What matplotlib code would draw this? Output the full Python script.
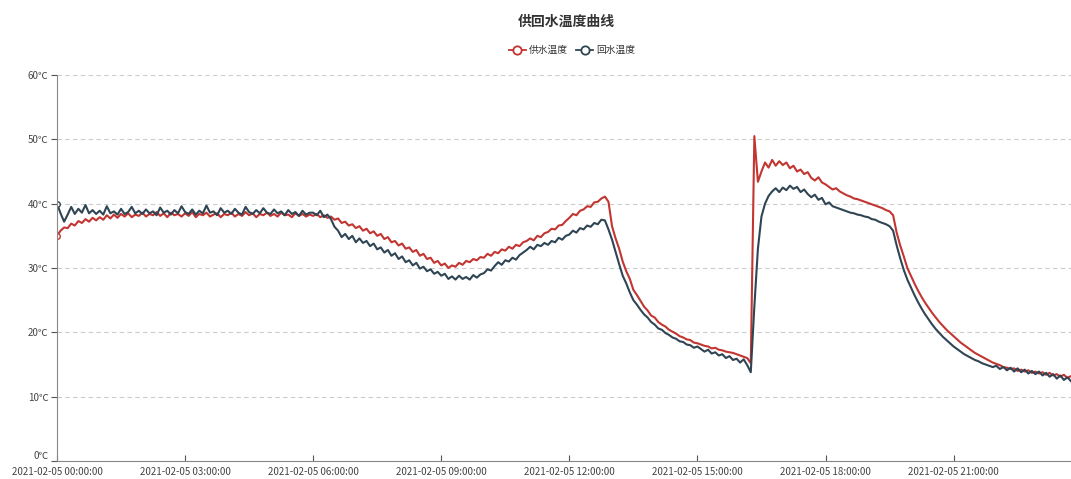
import matplotlib
matplotlib.use("Agg")
import matplotlib.pyplot as plt
import matplotlib.dates as mdates
import pandas as pd

plt.rcParams['font.family'] = ['Noto Sans CJK SC', 'DejaVu Sans']

# 5-minute samples, 2021-02-05 00:00 .. 23:45
times = pd.date_range('2021-02-05 00:00:00', periods=286, freq='5min')

# 供水温度 (supply), one row per hour
supply = [
    35.0, 35.8, 36.3, 36.2, 36.9, 36.6, 37.3, 37.0, 37.6, 37.2, 37.8, 37.4,
    37.9, 37.5, 38.2, 37.7, 38.3, 37.8, 38.4, 38.0, 38.5, 37.9, 38.3, 38.1,
    38.6, 38.0, 38.4, 38.2, 38.7, 38.1, 38.5, 37.9, 38.6, 38.2, 38.4, 38.0,
    38.5, 38.1, 38.7, 37.9, 38.4, 38.2, 38.6, 38.0, 38.3, 38.5, 37.9, 38.4,
    38.2, 38.6, 38.0, 38.4, 38.1, 38.7, 38.2, 38.5, 37.9, 38.4, 38.2, 38.6,
    38.1, 38.4, 38.0, 38.6, 38.2, 38.3, 37.9, 38.5, 38.1, 38.4, 38.0, 38.3,
    38.1, 38.4, 37.9, 38.2, 37.8, 38.0, 37.5, 37.7, 37.0, 37.2, 36.6, 36.8,
    36.2, 36.5, 35.8, 36.1, 35.4, 35.7, 35.0, 35.3, 34.5, 34.8, 34.0, 34.2,
    33.5, 33.8, 33.0, 33.2, 32.5, 32.8, 31.9, 32.2, 31.4, 31.6, 30.8, 31.1,
    30.4, 30.7, 30.0, 30.4, 30.2, 30.8, 30.5, 31.1, 30.9, 31.4, 31.2, 31.7,
    31.6, 32.2, 31.9, 32.5, 32.3, 32.9, 32.7, 33.3, 33.0, 33.6, 33.4, 34.0,
    34.2, 34.6, 34.3, 35.0, 34.8, 35.4, 35.6, 36.1, 36.0, 36.6, 36.7, 37.3,
    37.8, 38.4, 38.2, 38.9, 39.1, 39.6, 39.5, 40.2, 40.3, 40.8, 41.1, 40.3,
    36.5, 34.6, 33.0, 31.0, 29.5, 28.3, 26.6, 25.8, 24.9, 24.0, 23.4, 22.6,
    22.3, 21.6, 21.2, 20.9, 20.4, 20.1, 19.8, 19.4, 19.2, 18.9, 18.8, 18.4,
    18.3, 18.1, 17.9, 17.8, 17.5, 17.6, 17.3, 17.2, 17.0, 16.9, 16.8, 16.6,
    16.4, 16.2, 16.0, 15.2, 50.5, 43.4, 45.0, 46.4, 45.6, 46.8, 45.9, 46.6,
    46.0, 46.4, 45.5, 45.9, 45.0, 45.3, 44.6, 44.9, 44.0, 43.6, 44.1, 43.3,
    43.0, 42.6, 42.2, 42.4, 41.9, 41.6, 41.3, 41.1, 40.8, 40.7, 40.5, 40.3,
    40.1, 39.9, 39.7, 39.5, 39.3, 39.0, 38.8, 38.2, 35.5, 33.5, 31.8, 30.0,
    28.8, 27.6, 26.5, 25.5, 24.6, 23.8, 23.0, 22.3, 21.6, 21.0, 20.4, 19.9,
    19.4, 18.9, 18.4, 18.0, 17.6, 17.2, 16.8, 16.5, 16.2, 15.9, 15.6, 15.3,
    15.1, 14.9, 14.6, 14.5, 14.3, 14.4, 14.0, 14.2, 13.9, 14.1, 13.7, 13.9,
    13.6, 13.8, 13.4, 13.7, 13.3, 13.5, 13.1, 13.4, 12.9, 13.2,
]

# 回水温度 (return)
ret = [
    40.0, 38.5, 37.2, 38.3, 39.5, 38.4, 39.2, 38.6, 39.8, 38.5, 39.0, 38.4,
    38.9, 38.3, 39.6, 38.5, 38.8, 38.3, 39.2, 38.4, 38.7, 39.5, 38.5, 38.9,
    38.4, 39.1, 38.5, 38.8, 38.2, 39.4, 38.6, 38.9, 38.3, 39.0, 38.5, 39.6,
    38.7, 38.4, 39.1, 38.3, 38.9, 38.5, 39.7, 38.6, 38.8, 38.2, 39.3, 38.6,
    38.9, 38.4, 39.2, 38.6, 38.3, 39.5, 38.7, 38.4, 39.0, 38.5, 39.3, 38.6,
    38.4, 39.1, 38.5, 38.8, 38.2, 39.0, 38.4, 38.7, 38.1, 38.9, 38.3, 38.6,
    38.6, 38.2, 38.9, 37.9, 38.3, 37.6, 36.4, 35.8, 34.8, 35.3, 34.5, 35.0,
    34.0, 34.6, 33.9, 34.2, 33.4, 33.8, 32.9, 33.2, 32.4, 32.8, 31.9, 32.3,
    31.4, 31.8, 30.9, 31.2, 30.4, 30.8, 29.9, 30.2, 29.5, 29.8, 29.1, 29.4,
    28.8, 29.1, 28.3, 28.7, 28.2, 28.8, 28.3, 28.6, 28.2, 28.9, 28.5, 29.0,
    29.2, 29.8, 29.6, 30.3, 30.9, 30.5, 31.2, 31.0, 31.6, 31.3, 32.0, 32.4,
    32.8, 33.3, 32.9, 33.6, 33.4, 33.9, 33.6, 34.2, 34.0, 34.7, 34.4, 35.0,
    35.2, 35.8, 35.5, 36.2, 36.0, 36.6, 36.4, 37.0, 36.8, 37.5, 37.4, 36.0,
    34.4, 32.5, 30.6, 28.8, 27.6, 26.2, 25.0, 24.3, 23.5, 22.8, 22.3, 21.6,
    21.2, 20.6, 20.4, 19.9, 19.6, 19.2, 19.0, 18.6, 18.5, 18.1, 18.0, 17.6,
    17.8, 17.4, 17.0, 17.3, 16.7, 16.9, 16.4, 16.6, 16.0, 16.3, 15.7, 15.9,
    15.3, 15.8, 14.9, 13.8, 24.0, 33.0, 38.0, 40.0, 41.2, 41.9, 42.4, 41.8,
    42.5, 42.1, 42.8, 42.3, 42.6, 41.8, 42.2, 41.5, 41.0, 41.4, 40.6, 40.9,
    39.9, 40.2, 39.6, 39.4, 39.2, 39.0, 38.8, 38.6, 38.5, 38.3, 38.2, 38.0,
    37.9, 37.6, 37.5, 37.2, 37.0, 36.8, 36.5, 35.8, 33.5, 31.5, 29.7, 28.2,
    27.0, 25.8, 24.7, 23.7, 22.8, 22.0, 21.2, 20.5, 19.9, 19.3, 18.8, 18.3,
    17.8, 17.4, 17.0, 16.6, 16.3, 16.0, 15.7, 15.5, 15.2, 15.0, 14.8, 14.6,
    14.8, 14.3, 14.6, 14.1, 14.5, 13.9, 14.4, 13.8, 14.2, 13.6, 14.0, 13.5,
    13.9, 13.3, 13.7, 13.1, 13.5, 12.8, 13.3, 12.6, 13.0, 12.4,
]

series_names = ['供水温度', '回水温度']
series_colors = ['#c23531', '#2f4554']
yticks = [0, 10, 20, 30, 40, 50, 60]

fig = plt.figure(figsize=(10.71, 4.79), dpi=100)
ax = fig.add_axes([57 / 1071, 1 - 461 / 479, 1 - 57 / 1071, (461 - 75) / 479])

ax.plot(times, supply, color=series_colors[0], lw=1.5, label=series_names[0],
        marker='o', markevery=[0], ms=4, mfc='white')
ax.plot(times, ret, color=series_colors[1], lw=1.5, label=series_names[1],
        marker='o', markevery=[0], ms=4, mfc='white')

ax.set_xlim(times[0], times[-1])
ax.set_ylim(0, 60)
ax.set_yticks(yticks)
ax.set_yticklabels([f'{v}℃' for v in yticks])

ax.xaxis.set_major_locator(mdates.HourLocator(byhour=range(0, 24, 3)))
ax.xaxis.set_major_formatter(mdates.DateFormatter('%Y-%m-%d %H:%M:%S'))

ax.grid(axis='y', color='#cccccc', linestyle=(0, (4, 3)), lw=0.8)
ax.set_axisbelow(True)
for s in ['top', 'right']:
    ax.spines[s].set_visible(False)
for s in ['left', 'bottom']:
    ax.spines[s].set_color('#888888')
ax.tick_params(axis='x', direction='in', length=4, color='#555555', labelsize=7,
               labelcolor='#444444', pad=4)
ax.tick_params(axis='y', direction='out', length=4, color='#555555', labelsize=7,
               labelcolor='#444444', pad=2)
ax.get_yticklabels()[0].set_va('bottom')

fig.text(566 / 1071, 1 - 22 / 479, '供回水温度曲线', ha='center', va='center',
         fontsize=10, fontweight='bold', color='#333333')

handles = [plt.Line2D([], [], color=c, lw=1.3, marker='o', ms=6, mfc='white', mew=1.3)
           for c in series_colors]
fig.legend(handles, series_names, loc='center', bbox_to_anchor=(572 / 1071, 1 - 50 / 479),
           ncol=2, frameon=False, fontsize=7, handlelength=1.8, handletextpad=0.3,
           columnspacing=0.8, labelcolor='#333333')

fig.savefig('out.png', dpi=100)
